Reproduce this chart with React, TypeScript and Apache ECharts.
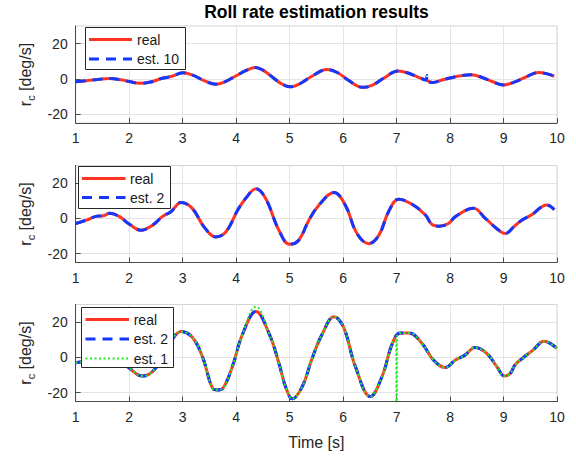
import { useEffect, useRef } from 'react';
import * as echarts from 'echarts';

const FONT = '"Liberation Sans", Arial, Helvetica, sans-serif';

const titleText = 'Roll rate estimation results';
const xLabel = 'Time [s]';
const yLabel = 'r{sub|c} [deg/s]';
const xTickValues = [1, 2, 3, 4, 5, 6, 7, 8, 9, 10];
const yTickValues = [-20, 0, 20];
const yMin = -25;
const yMax = 30;

// Panel 1: real vs est. 10
const t1 = [1.0, 1.2, 1.4, 1.64, 1.85, 2.0, 2.2, 2.4, 2.6, 2.8, 3.0, 3.2, 3.4, 3.62, 3.8, 4.0, 4.2, 4.36, 4.5, 4.7, 4.85, 5.02, 5.2, 5.4, 5.7, 5.9, 6.1, 6.37, 6.55, 6.75, 7.03, 7.2, 7.4, 7.55, 7.57, 7.59, 7.68, 7.85, 8.0, 8.2, 8.4, 8.6, 8.8, 9.0, 9.2, 9.4, 9.65, 9.8, 9.95];
const real1 = [-1.6, -1.0, -0.3, 0.2, -0.5, -1.5, -2.5, -1.8, 0.2, 1.5, 3.5, 2.0, -1.0, -3.0, -1.5, 1.8, 5.0, 6.5, 5.0, 0.5, -2.8, -4.5, -2.6, 1.2, 5.3, 3.5, -0.8, -4.8, -3.5, 0.2, 4.5, 3.5, 1.0, -0.6, -0.9, -1.2, -2.0, -0.6, 0.5, 1.8, 2.3, 0.8, -1.6, -3.4, -1.8, 0.8, 3.6, 3.0, 1.5];
const est10 = [-1.6, -1.0, -0.3, 0.2, -0.5, -1.5, -2.5, -1.8, 0.2, 1.5, 3.5, 2.0, -1.0, -3.0, -1.5, 1.8, 5.0, 6.5, 5.0, 0.5, -2.8, -4.5, -2.6, 1.2, 5.3, 3.5, -0.8, -4.8, -3.5, 0.2, 4.5, 3.5, 1.0, -0.6, 1.9, -1.6, -2.0, -0.6, 0.5, 1.8, 2.3, 0.8, -1.6, -3.4, -1.8, 0.8, 3.6, 3.0, 1.5];

// Panel 2: real vs est. 2
const t2 = [1.0, 1.2, 1.4, 1.52, 1.63, 1.82, 2.0, 2.22, 2.44, 2.62, 2.78, 2.97, 3.18, 3.4, 3.62, 3.81, 4.03, 4.18, 4.37, 4.55, 4.8, 5.0, 5.17, 5.36, 5.55, 5.83, 6.04, 6.26, 6.48, 6.67, 6.85, 7.04, 7.29, 7.54, 7.66, 7.79, 7.97, 8.1, 8.44, 8.66, 8.87, 9.03, 9.2, 9.34, 9.52, 9.81, 9.95];
const real2 = [-2.9, -1.0, 1.3, 1.5, 2.9, 1.0, -3.2, -6.7, -3.8, 1.0, 3.8, 9.0, 5.7, -4.8, -10.5, -7.6, 4.8, 11.4, 16.8, 11.4, -6.7, -14.7, -12.4, -1.0, 7.6, 14.7, 7.6, -8.6, -14.3, -9.5, 3.8, 10.9, 8.0, 1.9, -3.4, -4.4, -2.9, 1.0, 5.7, 0, -5.7, -8.6, -4.5, -1.0, 1.9, 7.6, 5.0];
const est2a = [-2.9, -1.0, 1.3, 1.5, 2.9, 1.0, -3.2, -6.7, -3.8, 1.0, 3.8, 9.0, 5.7, -4.8, -10.5, -7.6, 4.8, 11.4, 16.8, 11.4, -6.7, -14.7, -12.4, -1.0, 7.6, 14.7, 7.6, -8.6, -14.3, -9.5, 3.8, 10.9, 8.0, 1.9, -3.4, -4.4, -2.9, 1.0, 5.7, 0, -5.7, -8.6, -4.5, -1.0, 1.9, 7.6, 5.0];

// Panel 3: real vs est. 2 vs est. 1
const t3 = [1.0, 1.3, 1.6, 1.85, 2.0, 2.25, 2.44, 2.6, 2.81, 2.97, 3.18, 3.37, 3.56, 3.65, 3.75, 3.93, 4.12, 4.37, 4.62, 4.8, 4.93, 5.05, 5.24, 5.42, 5.61, 5.83, 6.01, 6.23, 6.51, 6.73, 6.92, 7.07, 7.23, 7.48, 7.69, 7.91, 8.1, 8.28, 8.47, 8.69, 8.88, 9.02, 9.12, 9.22, 9.35, 9.55, 9.76, 10.0];
const real3 = [-3.0, -1.5, 0.5, -2.0, -6.0, -10.6, -7.9, -1.0, 10.5, 14.7, 11.4, 0.4, -17.6, -18.5, -17.6, -5.1, 13.2, 26.1, 13.2, -3.3, -17.2, -23.5, -16.3, -0.6, 13.3, 23.1, 17.0, -5.2, -22.2, -10.7, 7.8, 13.9, 13.9, 7.8, -1.5, -5.7, -1.5, 1.3, 5.6, 2.2, -5.5, -10.6, -9.3, -4.0, -0.6, 4.1, 9.2, 5.1];
const est2b = [-3.0, -1.5, 0.5, -2.0, -6.0, -10.6, -7.9, -1.0, 10.5, 14.7, 11.4, 0.4, -17.6, -18.5, -17.6, -5.1, 13.2, 26.1, 13.2, -3.3, -17.2, -23.5, -16.3, -0.6, 13.3, 23.1, 17.0, -5.2, -22.2, -10.7, 7.8, 13.9, 13.9, 7.8, -1.5, -5.7, -1.5, 1.3, 5.6, 2.2, -5.5, -10.6, -9.3, -4.0, -0.6, 4.1, 9.2, 5.1];
const t3e1 = [1.0, 1.3, 1.6, 1.85, 2.0, 2.25, 2.44, 2.6, 2.81, 2.97, 3.18, 3.37, 3.56, 3.65, 3.75, 3.93, 4.12, 4.37, 4.62, 4.8, 4.93, 5.05, 5.24, 5.42, 5.61, 5.83, 6.01, 6.23, 6.51, 6.73, 6.92, 6.99, 7.0, 7.01, 7.07, 7.23, 7.48, 7.69, 7.91, 8.1, 8.28, 8.47, 8.69, 8.88, 9.02, 9.12, 9.22, 9.35, 9.55, 9.76, 10.0];
const est1 = [-3.0, -1.5, 0.5, -2.0, -6.0, -10.6, -7.9, -1.0, 10.5, 14.7, 11.4, 0.4, -17.6, -18.5, -17.6, -5.1, 13.2, 28.8, 13.2, -3.3, -17.2, -23.5, -16.3, -0.6, 13.3, 23.1, 17.0, -5.2, -22.2, -10.7, 7.8, 11.0, -80, 12.3, 13.9, 13.9, 7.8, -1.5, -5.7, -1.5, 1.3, 5.6, 2.2, -5.5, -10.6, -9.3, -4.0, -0.6, 4.1, 9.2, 5.1];

const RED = '#ff3322';
const BLUE = '#1238ff';
const GREEN = '#22ee22';
const DASH = [10, 7];
const DOT = [2, 2.5];

export default function App() {
  const ref = useRef<HTMLDivElement>(null);
  useEffect(() => {
    const chart = echarts.init(ref.current!, null, { renderer: 'svg' });
    const tops = [26, 165.5, 304.5];
    const axisColor = '#4a4a4a';
    const textColor = '#262626';

    const grid = tops.map((top) => ({
      left: 75.7, right: 19, top, height: 97,
      show: true, borderColor: '#d4d4d4', borderWidth: 1, backgroundColor: 'transparent',
    }));

    const xAxis = tops.map((_, i) => ({
      type: 'value', gridIndex: i, min: 1, max: 10, interval: 1,
      name: i === 2 ? xLabel : '', nameLocation: 'middle', nameGap: 33,
      nameTextStyle: { fontSize: 16, color: textColor, fontFamily: FONT },
      axisLine: { show: true, onZero: false, lineStyle: { color: axisColor, width: 1 } },
      axisTick: { show: true, inside: true, length: 5, lineStyle: { color: axisColor } },
      axisLabel: { fontSize: 14, color: textColor, fontFamily: FONT, margin: 8,
        customValues: xTickValues },
      splitLine: { show: true, lineStyle: { color: '#e4e4e4', width: 1 } },
    }));

    const yAxis = tops.map((_, i) => ({
      type: 'value', gridIndex: i, min: yMin, max: yMax,
      name: yLabel, nameLocation: 'middle', nameRotate: 90, nameGap: 38,
      nameTextStyle: {
        fontSize: 16, color: textColor, fontFamily: FONT,
        rich: { sub: { fontSize: 11, color: textColor, fontFamily: FONT, padding: [11, 0, 0, 0] } },
      },
      axisLine: { show: true, lineStyle: { color: axisColor, width: 1 } },
      axisTick: { show: true, inside: true, length: 5, lineStyle: { color: axisColor }, customValues: yTickValues },
      axisLabel: { fontSize: 14, color: textColor, fontFamily: FONT, margin: 8, customValues: yTickValues },
      splitLine: { show: true, lineStyle: { color: '#e4e4e4', width: 1 } },
    }));

    const mk = (name: string, t: number[], v: number[], idx: number, color: string, type: any, width: number, z: number) => ({
      type: 'line', name, xAxisIndex: idx, yAxisIndex: idx,
      data: t.map((x, k) => [x, v[k]]),
      showSymbol: false, symbol: 'none', smooth: 0.4, silent: true, clip: true, z,
      lineStyle: { color, width, type, cap: 'butt' },
    });

    const series = [
      mk('real', t1, real1, 0, RED, 'solid', 3, 2),
      mk('est. 10', t1, est10, 0, BLUE, DASH, 3, 3),
      mk('real', t2, real2, 1, RED, 'solid', 3, 2),
      mk('est. 2', t2, est2a, 1, BLUE, DASH, 3, 3),
      mk('real', t3, real3, 2, RED, 'solid', 3, 2),
      mk('est. 2', t3, est2b, 2, BLUE, DASH, 3, 3),
      mk('est. 1', t3e1, est1, 2, GREEN, DOT, 2, 4),
    ];

    const legendBox = (x: number, y: number, w: number, h: number, lx1: number, lx2: number, tx: number,
      rows: { y: number; label: string; color: string; dash: any; width: number }[]) => {
      const children: any[] = [{
        type: 'rect', shape: { x, y, width: w, height: h },
        style: { fill: '#ffffff', stroke: '#262626', lineWidth: 1 }, z: 100,
      }];
      rows.forEach((r) => {
        children.push({
          type: 'line', shape: { x1: lx1, y1: r.y, x2: lx2, y2: r.y },
          style: { stroke: r.color, lineWidth: r.width, lineDash: r.dash, lineCap: 'butt' }, z: 101,
        });
        children.push({
          type: 'text', x: tx, y: r.y, z: 101,
          style: { text: r.label, fill: '#1a1a1a', fontSize: 14, fontFamily: FONT, verticalAlign: 'middle', align: 'left' },
        });
      });
      return children;
    };

    const graphic = [
      ...legendBox(85.5, 27.5, 100, 42, 89, 132, 137, [
        { y: 39.5, label: 'real', color: RED, dash: null, width: 3 },
        { y: 59, label: 'est. 10', color: BLUE, dash: DASH, width: 3 },
      ]),
      ...legendBox(78.5, 166.5, 92, 42, 82, 125.5, 130, [
        { y: 178.5, label: 'real', color: RED, dash: null, width: 3 },
        { y: 197.5, label: 'est. 2', color: BLUE, dash: DASH, width: 3 },
      ]),
      ...legendBox(81.5, 307.5, 92, 60, 85.5, 129, 133.7, [
        { y: 319.5, label: 'real', color: RED, dash: null, width: 3 },
        { y: 339, label: 'est. 2', color: BLUE, dash: DASH, width: 3 },
        { y: 358.5, label: 'est. 1', color: GREEN, dash: DOT, width: 2 },
      ]),
    ];

    chart.setOption({
      animation: false,
      backgroundColor: '#ffffff',
      title: {
        text: titleText, left: 316.5, top: 3, textAlign: 'center', padding: 0,
        textStyle: { fontSize: 17.5, fontWeight: 'bold', color: '#000000', fontFamily: FONT },
      },
      grid, xAxis, yAxis, series, graphic,
    });
    return () => chart.dispose();
  }, []);
  return <div ref={ref} style={{ position: 'absolute', left: 0, top: 0, width: 576, height: 456 }} />;
}
